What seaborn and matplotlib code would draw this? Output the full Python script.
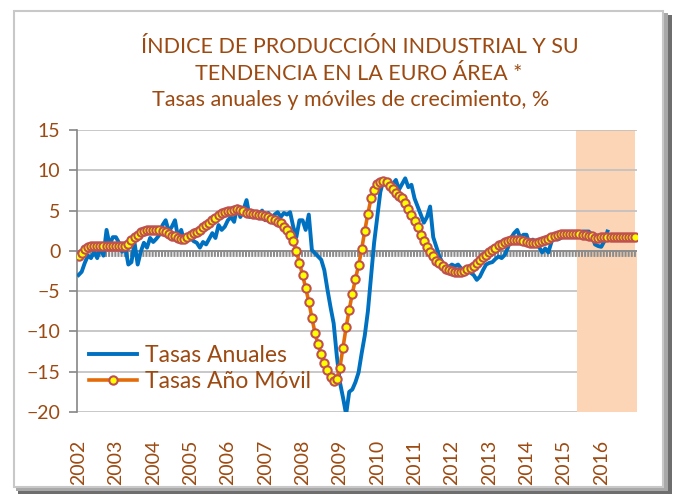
import matplotlib
matplotlib.use("Agg")
import matplotlib.pyplot as plt
from matplotlib.patches import Rectangle
import numpy as np
import pandas as pd
import seaborn as sns

# Monthly data, Jan 2002 onwards
years = ["2002", "2003", "2004", "2005", "2006", "2007", "2008", "2009",
         "2010", "2011", "2012", "2013", "2014", "2015", "2016"]

# Tasas anuales (observed, ends Mar 2016)
tasas_anuales = [
    -3.0, -2.6, -1.5, -0.6, -0.9, -0.1, -0.9, 0.5, -0.6, 2.6, 0.7, 1.7,      # 2002
    1.7, 1.0, -0.1, 0.5, -1.7, -1.4, 1.0, -1.7, -0.1, 1.0, 0.4, 1.6,         # 2003
    1.1, 1.5, 2.0, 3.2, 3.8, 2.4, 3.0, 3.8, 1.6, 2.6, 1.1, 1.4,              # 2004
    1.6, 1.2, 1.0, 0.4, 1.1, 0.8, 1.5, 2.2, 1.6, 3.2, 2.6, 3.0,              # 2005
    3.8, 4.2, 3.6, 5.5, 4.2, 5.1, 6.3, 4.2, 4.6, 4.8, 4.5, 5.0,              # 2006
    3.8, 4.7, 4.1, 4.5, 4.8, 4.2, 4.7, 4.5, 4.8, 3.0, 1.7, 3.8,              # 2007
    3.8, 2.6, 4.5, 0.1, -0.3, -0.7, -1.1, -2.4, -4.8, -7.0, -9.0, -13.0,     # 2008
    -16.3, -18.2, -20.3, -17.5, -17.2, -16.3, -15.1, -12.7, -10.5, -7.5, -3.2, 1.0,  # 2009
    4.2, 7.3, 8.8, 8.5, 8.4, 8.3, 8.8, 7.6, 8.3, 9.0, 7.9, 8.2,              # 2010
    6.5, 5.5, 4.5, 3.5, 4.2, 5.5, 1.7, 0.5, -0.7, -1.5, -1.8, -2.0,          # 2011
    -1.7, -1.9, -1.7, -2.2, -2.4, -2.6, -2.7, -3.0, -3.6, -3.2, -2.4, -1.7,  # 2012
    -1.5, -1.4, -1.0, -0.7, -0.9, -0.5, 0.4, 1.6, 2.2, 2.6, 1.6, 2.0,        # 2013
    2.0, 0.7, 1.4, 1.0, 0.5, -0.2, 0.3, -0.2, 1.1, 2.0, 1.4, 1.6,            # 2014
    2.0, 1.7, 2.0, 2.2, 2.2, 2.3, 2.4, 2.4, 2.4, 2.0, 0.8, 0.6,              # 2015
    0.5, 1.2, 2.4,                                                           # 2016
]

# Tasas año móvil (trend, with forecast to Dec 2016)
tasas_movil = [
    -0.7, -0.3, 0.2, 0.5, 0.6, 0.6, 0.6, 0.6, 0.6, 0.6, 0.6, 0.6,           # 2002
    0.6, 0.6, 0.6, 0.6, 0.9, 1.3, 1.7, 2.0, 2.3, 2.5, 2.6, 2.6,              # 2003
    2.6, 2.6, 2.6, 2.5, 2.3, 2.1, 1.9, 1.8, 1.6, 1.5, 1.5, 1.7,              # 2004
    2.0, 2.2, 2.4, 2.6, 2.9, 3.2, 3.5, 3.8, 4.1, 4.4, 4.7, 4.8,              # 2005
    4.9, 5.0, 5.1, 5.2, 5.1, 4.9, 4.7, 4.7, 4.6, 4.6, 4.5, 4.4,              # 2006
    4.3, 4.2, 4.0, 3.8, 3.6, 3.4, 3.0, 2.6, 2.0, 1.2, 0.0, -1.5,             # 2007
    -3.0, -4.6, -6.3, -8.3, -10.2, -11.6, -12.8, -13.9, -14.8, -15.6, -16.2, -15.9,  # 2008
    -14.5, -12.0, -9.5, -7.3, -5.3, -3.5, -1.8, 0.2, 2.5, 4.6, 6.5, 7.6,     # 2009
    8.3, 8.6, 8.7, 8.5, 8.1, 7.7, 7.2, 6.8, 6.5, 5.9, 5.2, 4.5,              # 2010
    3.7, 2.9, 2.0, 1.2, 0.5, -0.1, -0.7, -1.2, -1.5, -1.9, -2.2, -2.4,       # 2011
    -2.5, -2.6, -2.6, -2.6, -2.5, -2.3, -2.1, -1.9, -1.5, -1.1, -0.8, -0.5,  # 2012
    -0.2, 0.1, 0.4, 0.7, 0.9, 1.1, 1.2, 1.3, 1.4, 1.4, 1.3, 1.2,             # 2013
    1.1, 1.0, 1.0, 1.0, 1.1, 1.2, 1.4, 1.5, 1.7, 1.9, 2.0, 2.1,              # 2014
    2.1, 2.1, 2.1, 2.1, 2.1, 2.1, 2.0, 2.0, 1.9, 1.8, 1.6, 1.6,              # 2015
    1.7, 1.7, 1.7, 1.7, 1.7, 1.7, 1.7, 1.7, 1.7, 1.7, 1.7, 1.7,              # 2016
]

# first month of the shaded (forecast) zone
forecast_start = 160

df_anual = pd.DataFrame({"mes": np.arange(len(tasas_anuales)), "valor": tasas_anuales})
df_movil = pd.DataFrame({"mes": np.arange(len(tasas_movil)), "valor": tasas_movil})

brown = "#9C4A12"
plt.rcParams["lines.scale_dashes"] = False
plt.rcParams["font.family"] = ["Lato", "DejaVu Sans"]

W, H = 675, 494
fig = plt.figure(figsize=(W / 100, H / 100), dpi=100)

# chart frame with shadow
def px_rect(x0, y0, x1, y1, **kw):
    return Rectangle((x0 / W, 1 - y1 / H), (x1 - x0) / W, (y1 - y0) / H,
                     transform=fig.transFigure, **kw)

fig.patches.append(px_rect(18, 15, 672, 494, facecolor="#6E6E6E", edgecolor="none", zorder=-3))
fig.patches.append(px_rect(16, 13, 668, 491, facecolor="#A8A8A8", edgecolor="none", zorder=-2))
fig.patches.append(px_rect(14, 11, 663, 487, facecolor="white", edgecolor="#C8C8C8",
                           linewidth=1.5, zorder=-1))

ax = fig.add_axes([77 / W, 1 - 412 / H, 560 / W, 282 / H])
ax.set_facecolor("none")

n = len(tasas_movil)
ax.set_xlim(-0.5, n - 0.5)
ax.set_ylim(-20, 15)

# shaded forecast area (slightly offset above/below zero, as in the original)
ax.axvspan(forecast_start - 0.1, n - 1.1, ymin=20 / 35, ymax=1, color="#FBD5B5", lw=0, zorder=0.2)
ax.axvspan(forecast_start + 0.2, n - 0.5, ymin=0, ymax=20 / 35, color="#FBD5B5", lw=0, zorder=1.2)

ax.set_yticks(np.arange(-20, 16, 5))
ax.yaxis.grid(True, color="#BFBFBF", linewidth=1.2, zorder=1)
ax.set_axisbelow(True)

# zero line with month ticks
ax.axhline(0, color="#8C8C8C", linewidth=1.4, zorder=1.5)
ax.axhline(-0.45, color="#8C8C8C", linewidth=4.2, dashes=(1.45, 0.79), zorder=1.5)

sns.lineplot(data=df_anual, x="mes", y="valor", ax=ax, color="#0070C0",
             linewidth=2.8, label="Tasas Anuales", zorder=3)
sns.lineplot(data=df_movil, x="mes", y="valor", ax=ax, color="#E36C09",
             linewidth=2.6, marker="o", markersize=6.0, markerfacecolor="#FFFF00",
             markeredgecolor="#C0504D", markeredgewidth=1.5,
             label="Tasas Año Móvil", zorder=4)

for s in ["top", "right", "bottom"]:
    ax.spines[s].set_visible(False)
ax.spines["left"].set_color("#868686")
ax.spines["left"].set_linewidth(1.2)

ax.set_xticks(np.arange(0, n, 12))
ax.set_xticklabels(years, rotation=90)
ax.tick_params(axis="x", length=0, pad=20, labelsize=14, labelcolor=brown)
ax.tick_params(axis="y", direction="out", length=6, width=1.2, color="#868686",
               pad=6, labelsize=14, labelcolor=brown)
ax.set_xlabel("")
ax.set_ylabel("")

leg = ax.legend(loc="lower left", bbox_to_anchor=(0.022, 0.07), frameon=False,
                fontsize=16.5, handlelength=2.1, handletextpad=0.35,
                labelspacing=0.25, borderpad=0, borderaxespad=0)
for t in leg.get_texts():
    t.set_color(brown)

fig.text(360 / W, 1 - 47 / H, "ÍNDICE DE PRODUCCIÓN INDUSTRIAL Y SU", ha="center", va="center",
         fontsize=15.5, color=brown)
fig.text(359 / W, 1 - 74 / H, "TENDENCIA EN LA EURO ÁREA *", ha="center", va="center",
         fontsize=15.5, color=brown)
fig.text(351 / W, 1 - 100 / H, "Tasas anuales y móviles de crecimiento, %", ha="center", va="center",
         fontsize=15.5, color=brown)

fig.savefig("out.png", dpi=100)
